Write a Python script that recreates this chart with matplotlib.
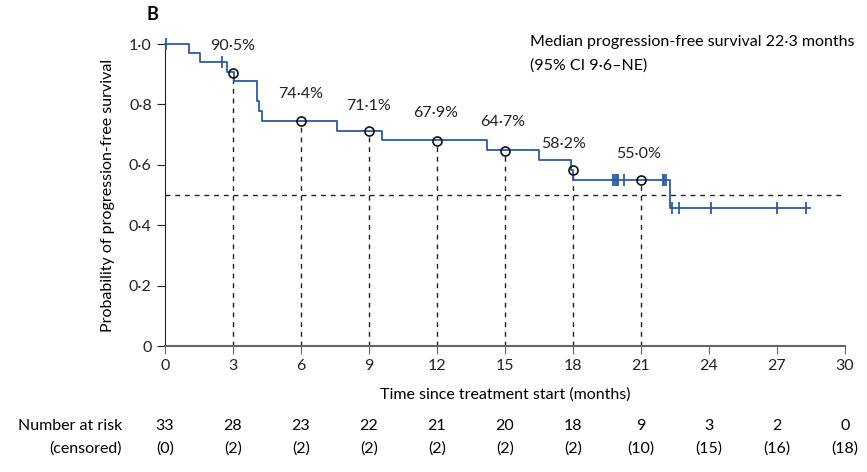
import numpy as np
import matplotlib.pyplot as plt

plt.rcParams['font.family'] = ['Lato', 'DejaVu Sans']

# Kaplan-Meier step curve
step_t = [0, 1.06, 1.54, 2.72, 3.04, 4.05, 4.15, 4.26, 7.6, 9.59, 14.19, 16.5, 17.9, 18.0, 22.28, 28.45]
step_s = [1.0, 0.970, 0.939, 0.908, 0.876, 0.812, 0.778, 0.744, 0.712, 0.681, 0.648, 0.616, 0.582, 0.550, 0.457, 0.457]

# censoring marks
cens_t = [0.03, 2.5, 19.78, 19.86, 19.94, 20.0, 20.26, 21.96, 22.03, 22.1,
          22.35, 22.69, 24.09, 27.0, 28.26]
cens_s = [1.0, 0.939, 0.550, 0.550, 0.550, 0.550, 0.550, 0.550, 0.550, 0.550,
          0.457, 0.457, 0.457, 0.457, 0.457]

# landmark estimates
mark_t = [3, 6, 9, 12, 15, 18, 21]
mark_s = [0.905, 0.744, 0.711, 0.679, 0.647, 0.582, 0.550]
mark_lbl = ['90·5%', '74·4%', '71·1%', '67·9%', '64·7%', '58·2%', '55·0%']
lbl_x = [3, 6, 9, 11.95, 14.9, 17.6, 20.9]
lbl_y = [0.993, 0.834, 0.795, 0.771, 0.741, 0.668, 0.635]

risk_t = [0, 3, 6, 9, 12, 15, 18, 21, 24, 27, 30]
at_risk = [33, 28, 23, 22, 21, 20, 18, 9, 3, 2, 0]
censored = [0, 2, 2, 2, 2, 2, 2, 10, 15, 16, 18]

blue = '#2c5aa0'

fig = plt.figure(figsize=(8.67, 4.72), dpi=100)
ax = fig.add_axes([0.1903, 0.2669, 0.7843, 0.6398])

# reference lines
for t, s in zip(mark_t, mark_s):
    ax.plot([t, t], [0, s - 0.014], ls=(0, (3.5, 3.5)), color='#222222', lw=1)
ax.plot([0, 30], [0.5, 0.5], ls=(0, (3.5, 3.5)), color='#222222', lw=1)

ax.step(step_t, step_s, where='post', color=blue, lw=1.3, clip_on=False, zorder=3)
ax.plot(cens_t, cens_s, ls='none', marker='|', ms=8, mew=1.3, color=blue, clip_on=False, zorder=4)
ax.plot(mark_t, mark_s, ls='none', marker='o', ms=6.5, mfc='none', mec='#111111', mew=1.2, zorder=5)

for x, y, s in zip(lbl_x, lbl_y, mark_lbl):
    ax.text(x, y, s, ha='center', va='center', fontsize=11.5, color='#222222')

ax.set_xlim(0, 30)
ax.set_ylim(0, 1.0)
ax.set_xticks(risk_t)
ax.set_yticks([0, 0.2, 0.4, 0.6, 0.8, 1.0])
ax.set_yticklabels(['0', '0·2', '0·4', '0·6', '0·8', '1·0'])
ax.tick_params(labelsize=11.5, length=6, colors='#222222')
ax.tick_params(axis='x', color='#666666')
for side in ['top', 'right']:
    ax.spines[side].set_visible(False)
ax.spines['bottom'].set_color('#666666')
ax.spines['bottom'].set_linewidth(1.5)
ax.spines['left'].set_color('#222222')
ax.set_ylabel('Probability of progression-free survival', fontsize=11.5, labelpad=10)

tr = ax.get_xaxis_transform()
ax.text(15, -0.16, 'Time since treatment start (months)', transform=tr,
        ha='center', va='center', fontsize=11.5)
for t, n, c in zip(risk_t, at_risk, censored):
    ax.text(t, -0.265, str(n), transform=tr, ha='center', va='center', fontsize=11.5)
    ax.text(t, -0.341, '(%d)' % c, transform=tr, ha='center', va='center', fontsize=11.5)
ax.text(122 / 867, 1 - 426 / 472, 'Number at risk', transform=fig.transFigure,
        ha='right', va='center', fontsize=11.5)
ax.text(122 / 867, 1 - 449 / 472, '(censored)', transform=fig.transFigure,
        ha='right', va='center', fontsize=11.5)

fig.text(146 / 867, 1 - 15 / 472, 'B', fontsize=13, fontweight='bold', ha='left', va='center')
fig.text(530 / 867, 1 - 42 / 472, 'Median progression-free survival 22·3 months',
         fontsize=11.5, ha='left', va='center')
fig.text(530 / 867, 1 - 66 / 472, '(95% CI 9·6–NE)', fontsize=11.5, ha='left', va='center')

fig.savefig('out.png', dpi=100)
